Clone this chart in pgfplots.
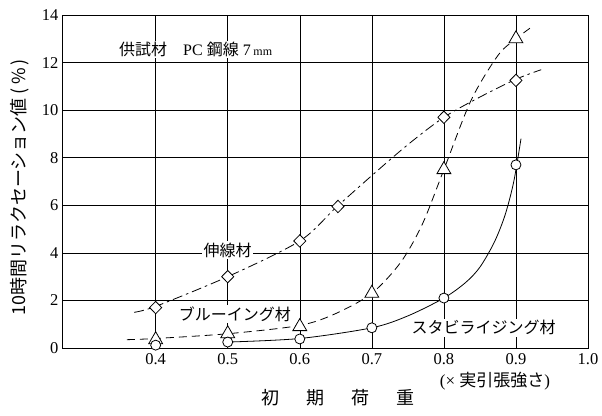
\documentclass[border=0pt]{standalone}
\usepackage{pgfplots}
\pgfplotsset{compat=1.18}
\usepackage{fontspec}
\setmainfont{Liberation Serif}
\newfontfamily\cjk{Noto Sans CJK JP}
\begin{document}
\begin{tikzpicture}
\begin{axis}[
  scale only axis, width=526pt, height=333pt,
  xmin=0.27, xmax=1.0, ymin=0, ymax=14,
  xtick={0.4,0.5,0.6,0.7,0.8,0.9,1.0},
  xticklabels={0.4,0.5,0.6,0.7,0.8,0.9,1.0},
  ytick={0,2,4,6,8,10,12,14},
  grid=major, grid style={black, line width=0.55pt},
  major tick length=0pt,
  axis line style={line width=0.9pt},
  tick label style={font=\fontsize{16.5}{18}\selectfont},
  xticklabel style={yshift=-2pt},
  /pgf/number format/assume math mode=true,
  clip=false,
]
% curves
\addplot[black, line width=0.8pt, smooth, dash pattern=on 10pt off 4pt on 2.5pt off 4pt] coordinates {
  (0.37,1.5) (0.4,1.75) (0.5,3.0) (0.6,4.5) (0.65,5.9) (0.7,7.25) (0.75,8.55) (0.8,9.7) (0.85,10.55) (0.9,11.3) (0.935,11.7)};
\addplot[black, line width=0.8pt, smooth, dash pattern=on 8pt off 5pt] coordinates {
  (0.36,0.35) (0.4,0.4) (0.5,0.6) (0.6,0.95) (0.65,1.45) (0.7,2.3) (0.74,3.6) (0.77,5.2) (0.8,7.5) (0.8375,10.4) (0.875,12.3) (0.9,13.0) (0.922,13.5)};
\addplot[black, line width=0.8pt, smooth] coordinates {
  (0.5,0.25) (0.6,0.4) (0.7,0.85) (0.75,1.35) (0.8,2.1) (0.83,2.75) (0.85,3.4) (0.87,4.45) (0.885,5.6) (0.897,7.0) (0.907,8.8)};
% labels
\node[fill=white, inner sep=1.5pt, font=\cjk\fontsize{16}{18}\selectfont] at (axis cs:0.4555,12.55) {供試材\hspace{1em}\rmfamily PC {\cjk 鋼線} 7\,{\fontsize{12}{13}\selectfont mm}};
\node[fill=white, inner sep=1.5pt, font=\cjk\fontsize{16}{18}\selectfont] at (axis cs:0.5,4.12) {伸線材};
\node[fill=white, inner sep=1.5pt, font=\cjk\fontsize{16}{18}\selectfont] at (axis cs:0.51,1.42) {ブルーイング材};
\node[fill=white, inner sep=1.5pt, font=\cjk\fontsize{16}{18}\selectfont] at (axis cs:0.855,0.85) {スタビライジング材};
% markers
\addplot[only marks, mark=diamond*, mark size=6.2pt, mark options={fill=white, draw=black, line width=0.8pt, xscale=1.3}] coordinates {
  (0.4,1.7) (0.5,3.0) (0.6,4.5) (0.653,5.95) (0.8,9.7) (0.9,11.25)};
\addplot[only marks, mark=triangle*, mark size=8pt, mark options={fill=white, draw=black, line width=0.8pt}] coordinates {
  (0.4,0.35) (0.5,0.6) (0.6,0.9) (0.7,2.3) (0.8,7.5) (0.9,13.0)};
\addplot[only marks, mark=*, mark size=5pt, mark options={fill=white, draw=black, line width=0.8pt}] coordinates {
  (0.4,0.12) (0.5,0.25) (0.6,0.38) (0.7,0.85) (0.8,2.1) (0.9,7.7)};
% axis annotations
\node[rotate=90, font=\cjk\fontsize{18}{20}\selectfont] at ([xshift=-42pt, yshift=-6pt]rel axis cs:0,0.5) {10時間リラクセーション値 (\,\%\,)};
\node[font=\fontsize{17}{19}\selectfont, anchor=center] at (axis cs:0.871,-1.38) {(× {\cjk 実引張強さ})};
\node[font=\cjk\fontsize{18}{20}\selectfont] at (axis cs:0.653,-2.1) {初\hspace{1.5em}期\hspace{1.5em}荷\hspace{1.5em}重};
% bounding box
\path ([xshift=-62pt, yshift=-67pt]rel axis cs:0,0) coordinate (bbA);
\path ([xshift=14pt, yshift=15pt]rel axis cs:1,1) coordinate (bbB);
\end{axis}
\useasboundingbox (bbA) rectangle (bbB);
\end{tikzpicture}
\end{document}
